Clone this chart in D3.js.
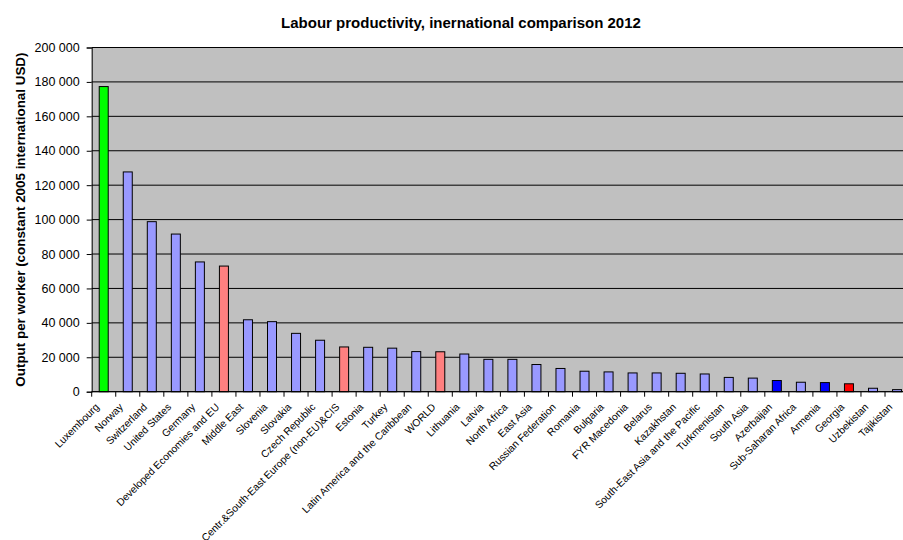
<!DOCTYPE html>
<html><head><meta charset="utf-8">
<script src="https://cdn.jsdelivr.net/npm/d3@7"></script>
<style>body{margin:0;background:#fff}svg{display:block}</style>
</head><body>
<script>
const categories = ["Luxembourg","Norway","Switzerland","United States","Germany","Developed Economies and EU","Middle East","Slovenia","Slovakia","Czech Republic","Centr.&South-East Europe (non-EU)&CIS","Estonia","Turkey","Latin America and the Caribbean","WORLD","Lithuania","Latvia","North Africa","East Asia","Russian Federation","Romania","Bulgaria","FYR Macedonia","Belarus","Kazakhstan","South-East Asia and the Pacific","Turkmenistan","South Asia","Azerbaijan","Sub-Saharan Africa","Armenia","Georgia","Uzbekistan","Tajikistan"];
const values = [177300,127700,98800,91600,75400,73000,41800,40700,33900,29900,26000,25800,25300,23300,23200,21900,18800,18800,15800,13500,11900,11500,10900,10900,10700,10300,8300,7900,6500,5500,5300,4600,2000,1200];
const barColors = ["#00FF00","#9999FF","#9999FF","#9999FF","#9999FF","#FF8080","#9999FF","#9999FF","#9999FF","#9999FF","#FF8080","#9999FF","#9999FF","#9999FF","#FF8080","#9999FF","#9999FF","#9999FF","#9999FF","#9999FF","#9999FF","#9999FF","#9999FF","#9999FF","#9999FF","#9999FF","#9999FF","#9999FF","#0000FF","#9999FF","#0000FF","#FF0000","#9999FF","#9999FF"];
const yTicks = [0,20000,40000,60000,80000,100000,120000,140000,160000,180000,200000];
const title = "Labour productivity, inernational comparison 2012";
const yTitle = "Output per worker (constant 2005 international USD)";

const W = 903, H = 540;
const FONT = "'Liberation Sans', Arial, sans-serif";
const pL = 91.7, pT = 47.5, pB = 391.7, pR = pL + 34 * 24.04;
const svg = d3.select("body").append("svg").attr("width", W).attr("height", H)
  .style("font-family", FONT);

const x = d3.scaleBand().domain(categories).range([pL, pR]).paddingInner(0).paddingOuter(0);
const y = d3.scaleLinear().domain([0, 200000]).range([pB, pT]);

svg.append("rect").attr("x", pL).attr("y", pT).attr("width", pR - pL).attr("height", pB - pT).attr("fill", "#C0C0C0");

svg.append("g").selectAll("line").data(yTicks).join("line")
  .attr("x1", pL).attr("x2", pR).attr("y1", d => y(d)).attr("y2", d => y(d))
  .attr("stroke", "#000").attr("stroke-width", 1);

const bw = 9;
svg.append("g").selectAll("rect").data(values).join("rect")
  .attr("x", (d, i) => x(categories[i]) + x.bandwidth() / 2 - bw / 2)
  .attr("y", d => y(d))
  .attr("width", bw)
  .attr("height", d => pB - y(d))
  .attr("fill", (d, i) => barColors[i])
  .attr("stroke", "#000").attr("stroke-width", 1);

const fmt = d => d3.format(",")(d).replace(/,/g, " ");
const yAxis = svg.append("g").attr("transform", `translate(${pL},0)`)
  .call(d3.axisLeft(y).tickValues(yTicks).tickFormat(fmt).tickSize(5).tickPadding(7));
yAxis.select(".domain").attr("stroke", "#000");
yAxis.selectAll("text").attr("font-size", 12.5).attr("fill", "#000").attr("font-family", FONT);

const xg = svg.append("g");
xg.append("line").attr("x1", pL).attr("x2", pR).attr("y1", pB).attr("y2", pB).attr("stroke", "#000");
xg.selectAll("line.t").data(d3.range(categories.length + 1)).join("line").attr("class", "t")
  .attr("x1", i => pL + i * x.bandwidth()).attr("x2", i => pL + i * x.bandwidth())
  .attr("y1", pB).attr("y2", pB + 5).attr("stroke", "#000");

xg.selectAll("text").data(categories).join("text")
  .attr("transform", d => `translate(${x(d) + x.bandwidth() / 2 - 4},${pB + 16}) rotate(-45)`)
  .attr("text-anchor", "end")
  .attr("font-size", 10.3).attr("fill", "#000")
  .text(d => d);

svg.append("text").attr("x", 461).attr("y", 27.5).attr("text-anchor", "middle")
  .attr("font-size", 15).attr("font-weight", "bold").text(title);

svg.append("text").attr("transform", `translate(25,${(pT + pB) / 2}) rotate(-90)`)
  .attr("text-anchor", "middle").attr("font-size", 13.4).attr("font-weight", "bold").text(yTitle);
</script>
</body></html>
